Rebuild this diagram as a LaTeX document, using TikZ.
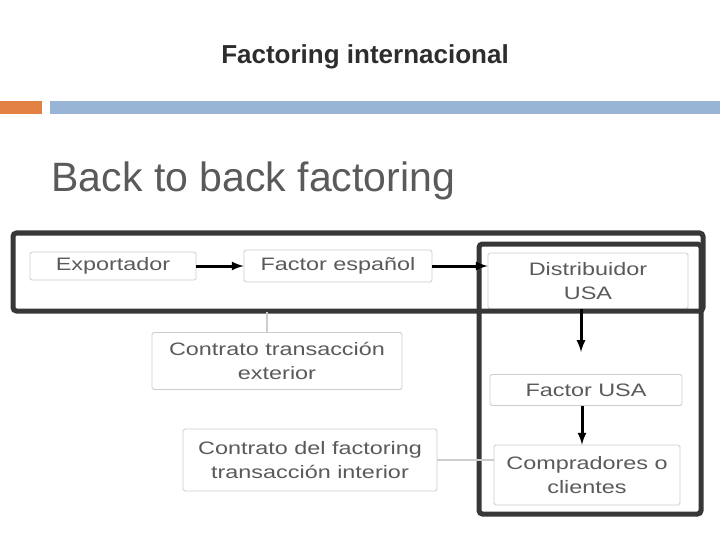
\documentclass[tikz,border=0pt]{standalone}
\usepackage{fontspec}
\setmainfont{Liberation Sans}
\newfontfamily\boxfont[FakeStretch=1.3]{Liberation Sans}
\usetikzlibrary{positioning}
\tikzstyle{slide} = [x = 1pt, y = -1pt]
\definecolor{textGray}{RGB}{90,90,90}
\definecolor{titleGray}{RGB}{45,45,45}
\definecolor{frameGray}{RGB}{55,55,55}
\definecolor{boxLine}{RGB}{205,205,205}
\definecolor{barOrange}{RGB}{226,128,66}
\definecolor{barBlue}{RGB}{152,181,214}
\tikzstyle{stepBox} = [draw=boxLine, fill=white, rounded corners=.06cm, thick, text=textGray, font=\boxfont\fontsize{18}{24}\selectfont, align=center, inner sep=0pt]
\tikzstyle{frameLine} = [color=frameGray, line width=5pt, rounded corners=.12cm]
\tikzstyle{flowArrow} = [-latex, line width=3pt, black]
\tikzstyle{linkLine} = [color=boxLine, line width=1.5pt]

\begin{document}
\begin{tikzpicture}[slide]
    \useasboundingbox (0,0) rectangle (720,540);
    % title and bar
    \node [text=titleGray] (title) at (365,57) {\fontsize{26}{30}\selectfont\bfseries Factoring internacional};
    \fill [barOrange] (0,101) rectangle (42,114);
    \fill [barBlue] (50,101) rectangle (720,114);
    \node [anchor=west, text=textGray] (heading) at (48,181) {\fontsize{41}{46}\selectfont Back to back factoring};
    % boxes
    \node [stepBox, minimum width=166pt, minimum height=28pt] (exportador) at (113,266) {Exportador};
    \node [stepBox, minimum width=188pt, minimum height=32pt] (factorEs) at (338,266) {Factor español};
    \node [stepBox, minimum width=200pt, minimum height=56pt] (distribuidor) at (588,281) {Distribuidor\\USA};
    \node [stepBox, minimum width=192pt, minimum height=31pt] (factorUsa) at (586,390) {Factor USA};
    \node [stepBox, minimum width=186pt, minimum height=60pt] (compradores) at (587,475) {Compradores o\\clientes};
    \node [stepBox, minimum width=250pt, minimum height=57pt] (contratoExt) at (277,361) {Contrato transacción\\exterior};
    \node [stepBox, minimum width=254pt, minimum height=62pt] (contratoInt) at (310,460) {Contrato del factoring\\transacción interior};
    % frames
    \draw [frameLine] (13,233) rectangle (703,311);
    \draw [frameLine] (479,244) rectangle (701,514);
    % connectors
    \coordinate (frameBottom) at (267,312);
    \draw [linkLine] (frameBottom) -- (contratoExt.north -| frameBottom);
    \draw [linkLine] (contratoInt.east) -- (compradores.west |- contratoInt.east);
    \draw [flowArrow] (exportador.east) -- (factorEs.west);
    \draw [flowArrow] (factorEs.east) -- (factorEs.east -| distribuidor.west);
    \draw [flowArrow] (distribuidor.south -| 581,0) -- (581,352);
    \draw [flowArrow] (factorUsa.south -| 582,0) -- (compradores.north -| 582,0);
\end{tikzpicture}
\end{document}
